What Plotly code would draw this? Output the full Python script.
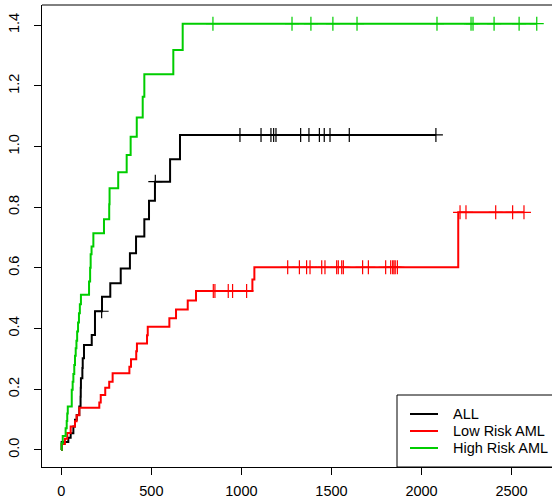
import numpy as np
import plotly.graph_objects as go

# ---------------- data ----------------
all_event_t = [2, 39, 52, 67, 76, 86, 100, 107, 108, 109, 117, 119, 126, 169, 187,
               226, 272, 330, 381, 415, 461, 487, 520, 604, 659]
all_event_h = [0.026, 0.040, 0.055, 0.077, 0.099, 0.115, 0.143, 0.175, 0.205, 0.236,
               0.270, 0.302, 0.346, 0.379, 0.457, 0.505, 0.549, 0.598, 0.648, 0.703,
               0.760, 0.821, 0.884, 0.958, 1.038]
all_cens = [224, 522, 992, 1109, 1164, 1179, 1192, 1329, 1375, 1433, 1460, 1492, 1599, 2080]

low_event_t = [2, 20, 33, 52, 76, 85, 100, 211, 219, 244, 266, 285, 378, 387, 416, 420,
               476, 480, 600, 637, 702, 748, 1061, 1072, 2204]
low_event_h = [0.019, 0.037, 0.056, 0.077, 0.094, 0.114, 0.139, 0.156, 0.181, 0.205,
               0.225, 0.253, 0.274, 0.299, 0.325, 0.351, 0.378, 0.406, 0.434, 0.463,
               0.492, 0.524, 0.562, 0.602, 0.783]
low_cens = [844, 853, 927, 951, 1029, 1257, 1322, 1362, 1381, 1446, 1464, 1529, 1538,
            1557, 1566, 1673, 1705, 1801, 1829, 1840, 1847, 1854, 1866, 2214, 2247,
            2412, 2506, 2569]

high_event_t = [2, 8, 24, 30, 33, 36, 58, 63, 67, 72, 76, 80, 84, 88, 93, 98, 103, 109,
                154, 160, 163, 168, 178, 237, 266, 268, 316, 363, 385, 419, 452, 461,
                622, 674]
high_event_h = [0.022, 0.046, 0.071, 0.095, 0.120, 0.143, 0.198, 0.225, 0.250, 0.280,
                0.310, 0.335, 0.360, 0.390, 0.420, 0.450, 0.480, 0.511, 0.555, 0.600,
                0.645, 0.670, 0.714, 0.760, 0.810, 0.862, 0.915, 0.972, 1.032, 1.096,
                1.164, 1.238, 1.318, 1.405]
high_cens = [842, 1281, 1386, 1508, 1642, 2086, 2275, 2286, 2403, 2542, 2640]

group_names = ["ALL", "Low Risk AML", "High Risk AML"]
group_colors = ["#000000", "#FF0000", "#00CD00"]

x_ticks = [0, 500, 1000, 1500, 2000, 2500]
y_ticks = [0.0, 0.2, 0.4, 0.6, 0.8, 1.0, 1.2, 1.4]
y_tick_text = ["0.0", "0.2", "0.4", "0.6", "0.8", "1.0", "1.2", "1.4"]

# ---------------- layout geometry ----------------
W, H = 552, 501
ML, MR, MT, MB = 42, 0, 5, 34
plot_w = W - ML - MR
plot_h = H - MT - MB
x_scale = 0.1801            # px per day
x0_px = 61.3
x_range = [(ML - x0_px) / x_scale, (W - MR - x0_px) / x_scale]
y_range = [-0.0564, 1.4664]

FONT = "Liberation Sans, Arial, Helvetica, sans-serif"
FS = 14.5

fig = go.Figure()

groups = [
    (all_event_t, all_event_h, all_cens),
    (low_event_t, low_event_h, low_cens),
    (high_event_t, high_event_h, high_cens),
]

for (et, eh, ce), name, col in zip(groups, group_names, group_colors):
    et = np.array(et, dtype=float)
    eh = np.array(eh, dtype=float)
    end_t = max(max(ce), et[-1])
    xs = np.concatenate([[0.0], et, [end_t]])
    ys = np.concatenate([[0.0], eh, [eh[-1]]])
    fig.add_trace(go.Scatter(x=xs, y=ys, mode="lines", line=dict(color=col, width=2, shape="hv"),
                             name=name, showlegend=False, hoverinfo="skip"))
    ce = np.array(ce, dtype=float)
    idx = np.searchsorted(et, ce, side="right") - 1
    cy = np.where(idx >= 0, eh[np.clip(idx, 0, None)], 0.0)
    fig.add_trace(go.Scatter(x=ce, y=cy, mode="markers",
                             marker=dict(symbol="cross-thin", size=10, line=dict(color=col, width=1.2)),
                             showlegend=False, hoverinfo="skip"))


def px2paper_x(px):
    return (px - ML) / plot_w


def px2paper_y(py):
    return (H - MB - py) / plot_h


shapes = []
annotations = []
# legend box
shapes.append(dict(type="rect", xref="paper", yref="paper",
                   x0=px2paper_x(397), x1=px2paper_x(600),
                   y0=px2paper_y(467), y1=px2paper_y(395),
                   line=dict(color="black", width=1), fillcolor="white", layer="above"))
rows_y = [414, 431, 448]
for name, col, ry in zip(group_names, group_colors, rows_y):
    shapes.append(dict(type="line", xref="paper", yref="paper",
                       x0=px2paper_x(410), x1=px2paper_x(438),
                       y0=px2paper_y(ry), y1=px2paper_y(ry),
                       line=dict(color=col, width=2), layer="above"))
    annotations.append(dict(xref="paper", yref="paper", x=px2paper_x(451), y=px2paper_y(ry),
                            text=name, showarrow=False, xanchor="left", yanchor="middle",
                            font=dict(family=FONT, size=FS, color="black")))
# top border line
shapes.append(dict(type="line", xref="paper", yref="paper", x0=0, x1=1.2, y0=1, y1=1,
                   line=dict(color="black", width=1)))

fig.update_layout(
    width=W, height=H,
    margin=dict(l=ML, r=MR, t=MT, b=MB, pad=0),
    paper_bgcolor="white", plot_bgcolor="white",
    showlegend=False,
    shapes=shapes, annotations=annotations,
    font=dict(family=FONT, size=FS, color="black"),
    xaxis=dict(range=x_range, tickmode="array", tickvals=x_ticks,
               ticktext=[str(v) for v in x_ticks],
               showgrid=False, zeroline=False, showline=True, linecolor="black", linewidth=1,
               ticks="outside", ticklen=7, tickcolor="black", tickwidth=1,
               ticklabelstandoff=4,
               tickfont=dict(family=FONT, size=FS, color="black")),
    yaxis=dict(range=y_range, tickmode="array", tickvals=y_ticks, ticktext=y_tick_text,
               showgrid=False, zeroline=False, showline=True, linecolor="black", linewidth=1,
               ticks="outside", ticklen=7, tickcolor="black", tickwidth=1,
               tickangle=-90, ticklabelstandoff=9,
               tickfont=dict(family=FONT, size=FS, color="black")),
)

fig.write_html("out.html")
